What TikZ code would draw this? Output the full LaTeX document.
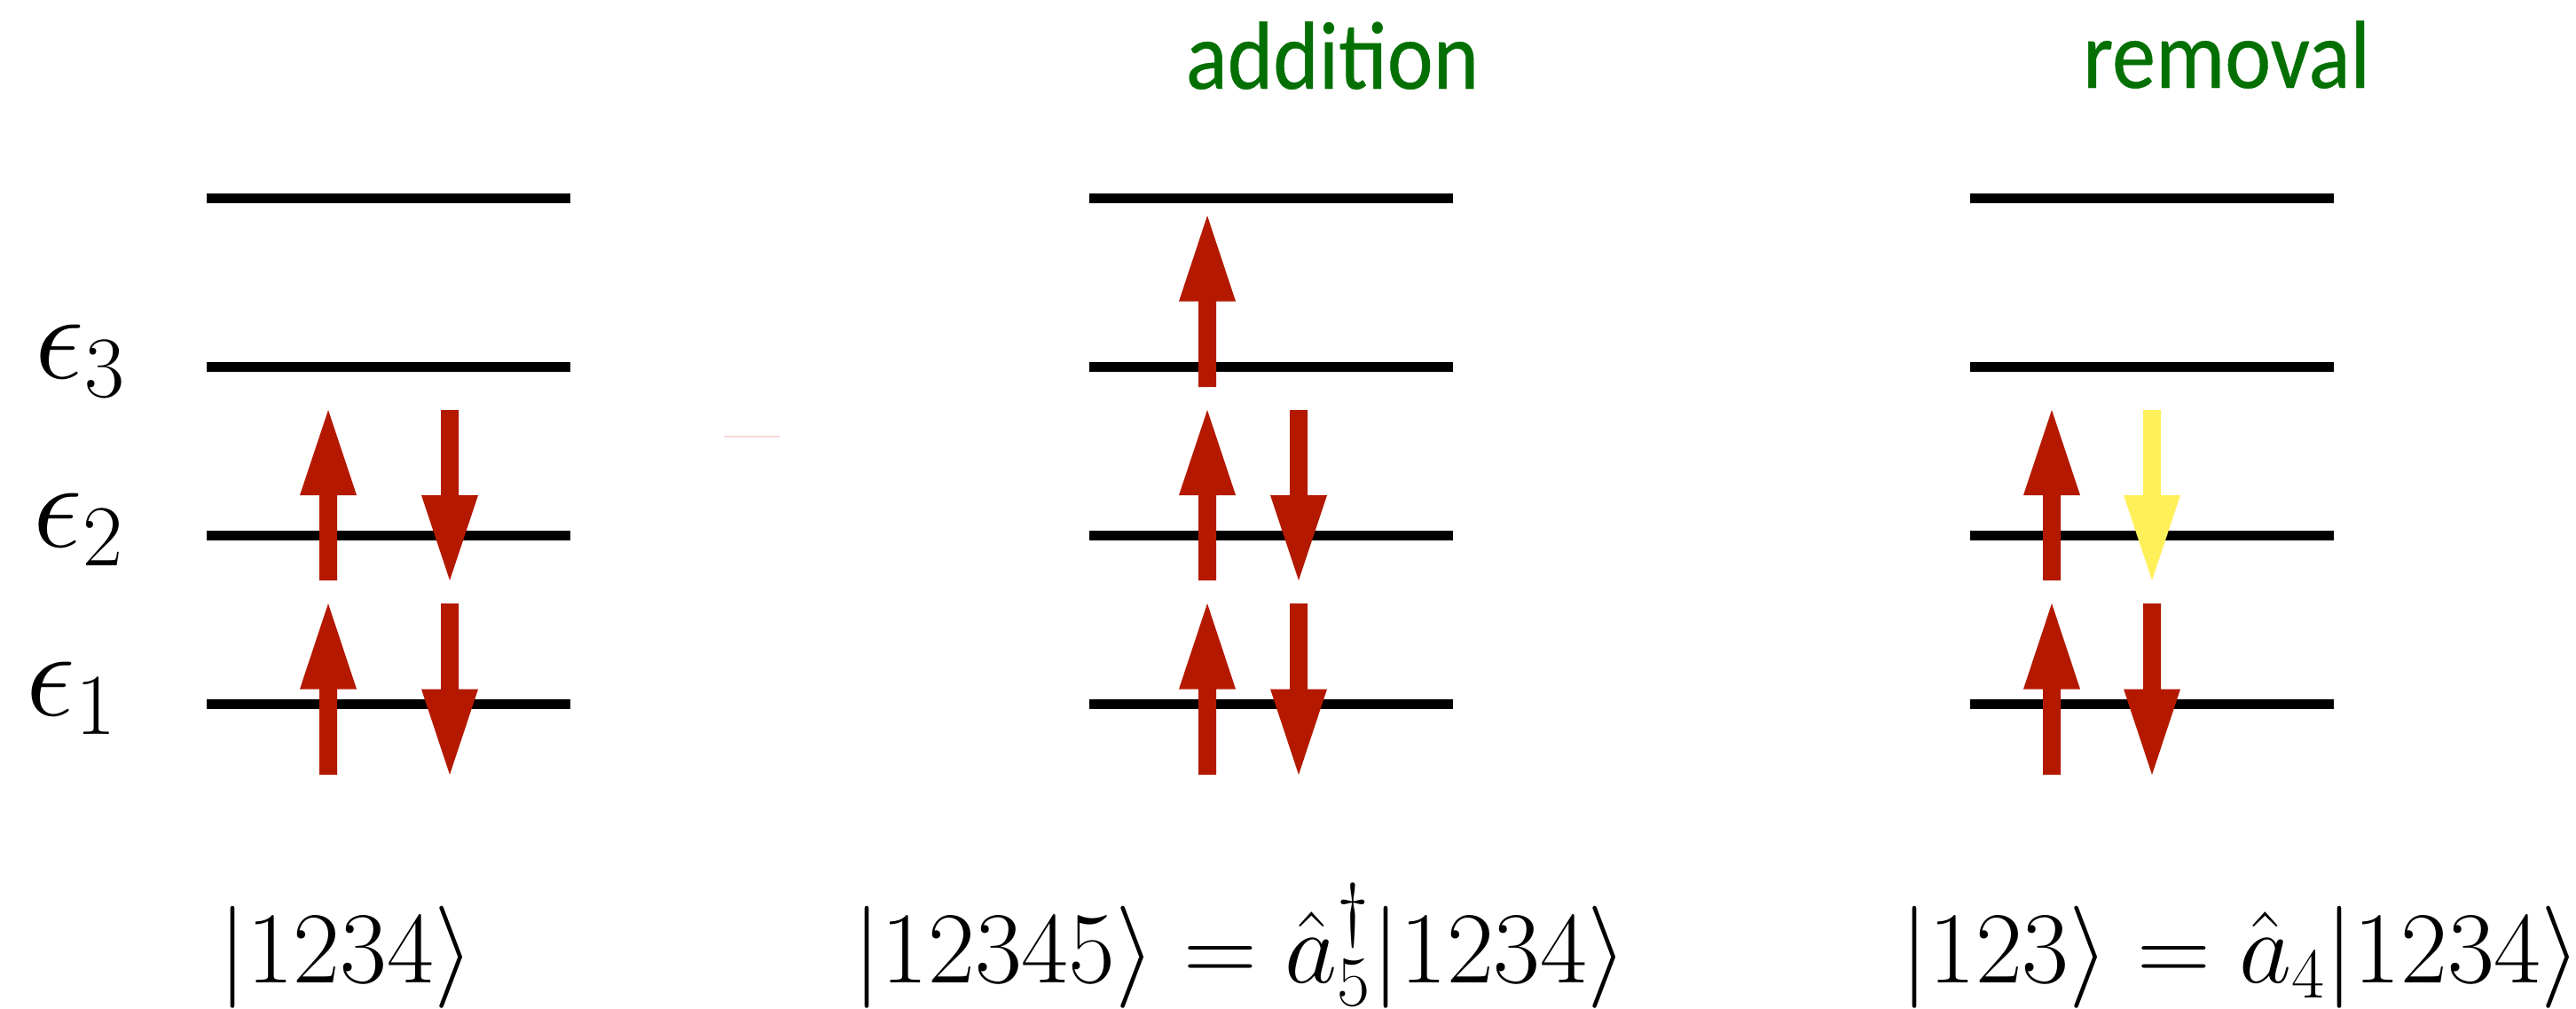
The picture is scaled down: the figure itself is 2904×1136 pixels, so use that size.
\RequirePackage{fix-cm}
\documentclass[tikz,border=0pt]{standalone}
\usepackage{fontspec}
\usepackage{amsmath}
\newfontfamily\labelfont[FakeStretch=0.9, FakeBold=0.4]{Carlito}
\usetikzlibrary{positioning}
\definecolor{spinred}{RGB}{180,25,0}
\definecolor{spinyellow}{RGB}{255,240,90}
\definecolor{labelgreen}{RGB}{4,112,4}
\definecolor{faintred}{RGB}{248,218,214}

\newcommand{\spinarrow}[4][spinred]{%
  \fill[#1] ({#2-10},#3) -- ({#2-10},{(#3+#4)/2}) -- ({#2-32},{(#3+#4)/2}) -- (#2,#4)
    -- ({#2+32},{(#3+#4)/2}) -- ({#2+10},{(#3+#4)/2}) -- ({#2+10},#3) -- cycle;}

\begin{document}
\begin{tikzpicture}[x=0.01cm, y=-0.01cm,
    level/.style={line width=0.11cm, black},
    energy/.style={inner sep=0pt, anchor=base west, font=\fontsize{39.8}{46}\selectfont},
    ket/.style={inner sep=0pt, anchor=base, font=\fontsize{32.7}{40}\selectfont},
    process/.style={inner sep=0pt, anchor=base, text=labelgreen, font=\labelfont\fontsize{31}{36}\selectfont}]
    \useasboundingbox (0,0) rectangle (2904,1136);

    \foreach \gx [count=\g] in {233,1228,2221}
        \foreach \ly [count=\l] in {793,603,413,223}
        {
            \coordinate (lv\g\l w) at (\gx,\ly);
            \coordinate (lv\g\l e) at (\gx+410,\ly);
            \draw[level] (lv\g\l w) -- (lv\g\l e);
        };

    \draw[faintred, line width=0.02cm] (816,492) -- (879,492);

    \node[energy] (e3) at (39,426) {$\epsilon_3$};
    \node[energy] (e2) at (37,616) {$\epsilon_2$};
    \node[energy] (e1) at (29,806) {$\epsilon_1$};

    \foreach \ux/\dx in {370/507, 1361/1464}
    {
        \spinarrow{\ux}{654}{462}
        \spinarrow{\dx}{462}{654}
        \spinarrow{\ux}{873}{680}
        \spinarrow{\dx}{680}{873}
    };
    \spinarrow{1361}{436}{243}

    \spinarrow{2313}{654}{462}
    \spinarrow[spinyellow]{2426}{462}{654}
    \spinarrow{2313}{873}{680}
    \spinarrow{2426}{680}{873}

    \node[process] (add) at (1502,100) {addition};
    \node[process] (rem) at (2510,99) {removal};

    \node[ket] (ground) at (390,1107) {$|1234\rangle$};
    \node[ket] (plus) at (1398,1107) {$|12345\rangle = \hat{a}_5^\dagger|1234\rangle$};
    \node[ket] (minus) at (2526,1107) {$|123\rangle = \hat{a}_4|1234\rangle$};
\end{tikzpicture}
\end{document}
